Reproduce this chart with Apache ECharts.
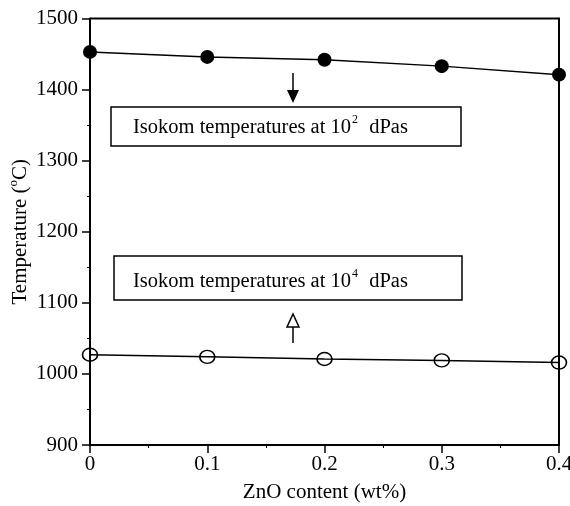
<!DOCTYPE html>
<html>
<head>
<meta charset="utf-8">
<script src="https://cdn.jsdelivr.net/npm/echarts@6/dist/echarts.min.js"></script>
<style>
  html, body { margin: 0; padding: 0; background: #fff; }
  #chart { width: 570px; height: 506px; }
</style>
</head>
<body>
<div id="chart"></div>
<script>
// ZnO content (wt%)
const zno = [0, 0.1, 0.2, 0.3, 0.4];
// isokom temperatures
const temp102 = [1453, 1446, 1442, 1433, 1421];
const temp104 = [1027, 1024, 1021, 1019, 1016];

const font = 'Liberation Serif';
const black = '#000';

const chart = echarts.init(document.getElementById('chart'));

function pairs(xs, ys) {
    return xs.map((x, i) => [x, ys[i]]);
}

// rich styles so the superscripts sit a little above the baseline
const supRich = {
    n: { fontFamily: font, fontSize: 20.5, lineHeight: 24, verticalAlign: 'bottom' },
    sup: { fontFamily: font, fontSize: 12, lineHeight: 24, verticalAlign: 'top', padding: [0, 6, 0, 1] }
};

const options = {
    animation: false,
    grid: { left: 90, right: 11, top: 18.5, bottom: 61, outerBoundsMode: 'none', containLabel: false },
    xAxis: {
        type: 'value',
        min: 0, max: 0.4, interval: 0.1,
        name: 'ZnO content (wt%)',
        nameLocation: 'middle',
        nameGap: 37,
        nameTextStyle: { fontFamily: font, fontSize: 21, color: black },
        axisLine: { onZero: false, lineStyle: { color: black, width: 2 } },
        axisTick: { length: 8, lineStyle: { color: black, width: 1.5 } },
        minorTick: { show: true, splitNumber: 2, length: 3, lineStyle: { color: black } },
        splitLine: { show: false },
        axisLabel: {
            fontFamily: font, fontSize: 21, color: black, margin: 9,
            formatter: v => v === 0 ? '0' : String(+v.toFixed(1))
        }
    },
    yAxis: {
        type: 'value',
        min: 900, max: 1500, interval: 100,
        name: '{n|Temperature (}{sup|o}{n|C)}',
        nameLocation: 'middle',
        nameRotate: 90,
        nameGap: 59,
        nameMoveOverlap: false,
        nameTextStyle: {
            fontFamily: font, fontSize: 21, color: black,
            rich: {
                n: { fontFamily: font, fontSize: 21, lineHeight: 24, verticalAlign: 'bottom' },
                sup: { fontFamily: font, fontSize: 13, lineHeight: 24, verticalAlign: 'top' }
            }
        },
        axisLine: { lineStyle: { color: black, width: 2 } },
        axisTick: { length: 8, lineStyle: { color: black, width: 1.5 } },
        minorTick: { show: true, splitNumber: 2, length: 3, lineStyle: { color: black } },
        splitLine: { show: false },
        axisLabel: {
            fontFamily: font, fontSize: 21, color: black, margin: 12,
            formatter: v => String(v)
        }
    },
    series: [
        {
            type: 'line',
            data: pairs(zno, temp102),
            symbol: 'circle',
            symbolSize: 14,
            itemStyle: { color: black },
            lineStyle: { color: black, width: 1.5 },
            z: 3
        },
        {
            type: 'line',
            data: pairs(zno, temp104),
            symbol: 'circle',
            symbolSize: [15, 13],
            itemStyle: { color: 'rgba(255,255,255,0)', borderColor: black, borderWidth: 1.5 },
            lineStyle: { color: black, width: 1.5 },
            z: 3
        }
    ],
    graphic: [
        // frame top and right
        { type: 'polyline', shape: { points: [[90, 18.5], [559, 18.5], [559, 445]] },
          style: { stroke: black, lineWidth: 2, fill: null } },
        // upper label box
        { type: 'rect', shape: { x: 111, y: 107, width: 350, height: 39 },
          style: { fill: '#fff', stroke: black, lineWidth: 1.5 } },
        { type: 'text', left: 133, top: 114,
          style: {
              text: '{n|Isokom temperatures at 10}{sup|2}{n| dPas}',
              fill: black, rich: supRich
          } },
        // filled down arrow
        { type: 'line', shape: { x1: 293, y1: 73, x2: 293, y2: 92 }, style: { stroke: black, lineWidth: 1.5 } },
        { type: 'polygon', shape: { points: [[287, 90], [299, 90], [293, 103]] }, style: { fill: black } },
        // lower label box
        { type: 'rect', shape: { x: 114, y: 256, width: 348, height: 44 },
          style: { fill: '#fff', stroke: black, lineWidth: 1.5 } },
        { type: 'text', left: 133, top: 268,
          style: {
              text: '{n|Isokom temperatures at 10}{sup|4}{n| dPas}',
              fill: black, rich: supRich
          } },
        // open up arrow
        { type: 'line', shape: { x1: 293, y1: 327, x2: 293, y2: 343 }, style: { stroke: black, lineWidth: 1.5 } },
        { type: 'polygon', shape: { points: [[287, 327], [299, 327], [293, 314]] },
          style: { fill: '#fff', stroke: black, lineWidth: 1.5 } }
    ]
};

chart.setOption(options);
window.addEventListener('resize', () => chart.resize());
</script>
</body>
</html>
